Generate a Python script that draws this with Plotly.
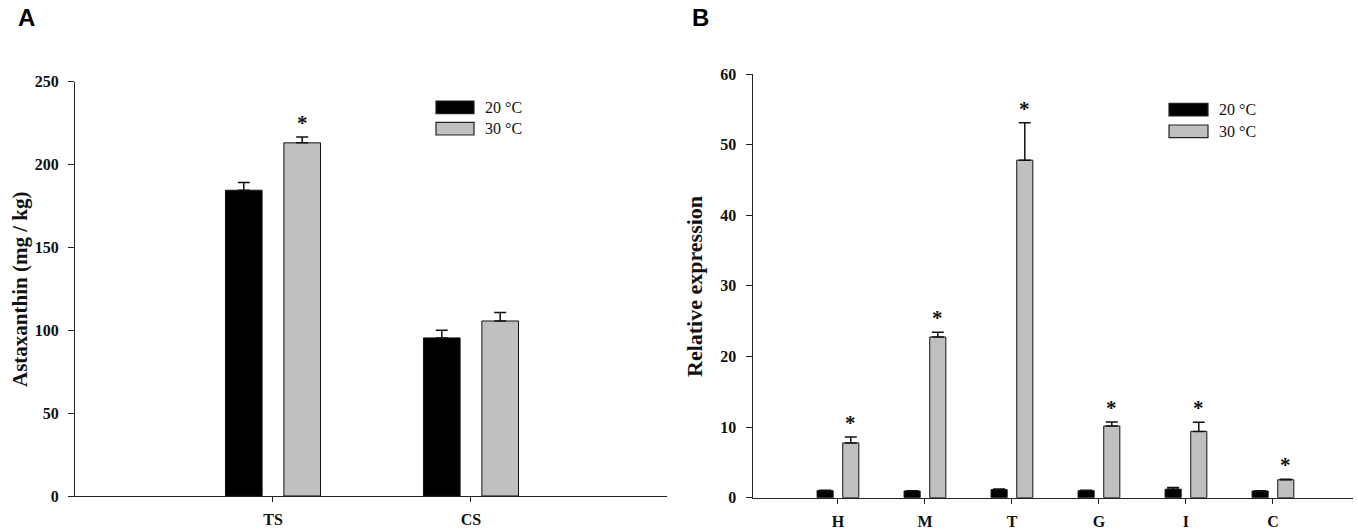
import plotly.graph_objects as go

# Panel A: astaxanthin content
sites_a = ["TS", "CS"]
asta_20 = [184.5, 95.4]
asta_20_err = [4.7, 4.6]
asta_30 = [213.1, 105.6]
asta_30_err = [3.5, 5.2]
signif_a = [True, False]

# Panel B: relative expression per tissue
tissues_b = ["H", "M", "T", "G", "I", "C"]
expr_20 = [1.0, 0.95, 1.15, 1.0, 1.2, 0.95]
expr_20_err = [0.05, 0.05, 0.08, 0.05, 0.25, 0.05]
expr_30 = [7.76, 22.76, 47.8, 10.16, 9.39, 2.54]
expr_30_err = [0.82, 0.67, 5.3, 0.57, 1.29, 0.08]
signif_b = [True, True, True, True, True, True]

legend_labels = ["20 \u00b0C", "30 \u00b0C"]
bar_colors = ["#000000", "#c0c0c0"]

W, H = 1358, 531
SERIF = "Liberation Serif, Times New Roman, serif"
SANS = "Liberation Sans, Arial, sans-serif"
BAR_W = 0.185
OFFSETS = [-0.24, 0.055]


def px_x(x):
    return x / W


def px_y(y):
    return 1 - y / H


def add_pair(fig, cats, vals, errs, xaxis, yaxis):
    """Add the 20 / 30 degree bars for one panel"""
    xs = list(range(len(cats)))
    for i in range(2):
        fig.add_trace(go.Bar(
            x=xs,
            y=vals[i],
            width=BAR_W,
            offset=OFFSETS[i],
            name=legend_labels[i],
            marker=dict(color=bar_colors[i], line=dict(color="#111111", width=1)),
            error_y=dict(type="data", symmetric=False, array=errs[i],
                         arrayminus=[0] * len(cats), color="#111111",
                         thickness=1.5, width=6),
            xaxis=xaxis,
            yaxis=yaxis,
            showlegend=False,
        ))


fig = go.Figure()
add_pair(fig, sites_a, [asta_20, asta_30], [asta_20_err, asta_30_err], "x", "y")
add_pair(fig, tissues_b, [expr_20, expr_30], [expr_20_err, expr_30_err], "x2", "y2")

annotations = []
# significance stars above the 30 degree bars
for xref, yref, vals, errs, sig in [("x", "y", asta_30, asta_30_err, signif_a),
                                    ("x2", "y2", expr_30, expr_30_err, signif_b)]:
    for i, s in enumerate(sig):
        if s:
            annotations.append(dict(
                x=i + OFFSETS[1] + BAR_W / 2, y=vals[i] + errs[i],
                xref=xref, yref=yref, text="<b>*</b>", showarrow=False,
                yanchor="bottom", yshift=0,
                font=dict(family=SERIF, size=21, color="#111111")))

# y axis titles
annotations.append(dict(x=px_x(20), y=px_y(290), xref="paper", yref="paper",
                        text="<b>Astaxanthin (mg / kg)</b>", textangle=-90,
                        xanchor="center", yanchor="middle",
                        showarrow=False, font=dict(family=SERIF, size=21, color="#111111")))
annotations.append(dict(x=px_x(694), y=px_y(287), xref="paper", yref="paper",
                        text="<b>Relative expression</b>", textangle=-90,
                        xanchor="center", yanchor="middle",
                        showarrow=False, font=dict(family=SERIF, size=22, color="#111111")))

# panel letters
annotations.append(dict(x=px_x(16), y=px_y(17), xref="paper", yref="paper", text="<b>A</b>",
                        xanchor="left", yanchor="middle", showarrow=False,
                        font=dict(family=SANS, size=24, color="#000000")))
annotations.append(dict(x=px_x(690), y=px_y(17), xref="paper", yref="paper", text="<b>B</b>",
                        xanchor="left", yanchor="middle", showarrow=False,
                        font=dict(family=SANS, size=24, color="#000000")))

# legend boxes drawn by hand (wide swatches like the original)
shapes = []
for bx0, bx1, tops, tx, tys in [(436, 474, [101, 122.3], 483, [107.5, 128.5]),
                                (1169, 1208, [103.3, 125], 1217, [110, 131])]:
    for i in range(2):
        shapes.append(dict(type="rect", xref="paper", yref="paper",
                           x0=px_x(bx0), x1=px_x(bx1),
                           y0=px_y(tops[i]), y1=px_y(tops[i] + 12.7),
                           fillcolor=bar_colors[i], line=dict(color="#222222", width=1.2)))
        annotations.append(dict(x=px_x(tx), y=px_y(tys[i]), xref="paper", yref="paper",
                                text=legend_labels[i], xanchor="left", yanchor="middle",
                                showarrow=False,
                                font=dict(family=SERIF, size=16, color="#111111")))

axis_common = dict(showline=True, linecolor="#222222", linewidth=1.3, showgrid=False,
                   zeroline=False, ticks="outside", tickcolor="#222222", tickwidth=1.3,
                   automargin=False)
xtick_font = dict(family=SERIF, size=16, color="#111111")
ytick_font = dict(family=SERIF, size=16, color="#111111")

fig.update_layout(
    width=W, height=H,
    margin=dict(l=0, r=0, t=0, b=0),
    paper_bgcolor="white", plot_bgcolor="white",
    barmode="overlay",
    showlegend=False,
    xaxis=dict(axis_common, domain=[px_x(75), px_x(667)], range=[-1.0, 1.99],
               tickvals=list(range(len(sites_a))), ticktext=[f"<b>{c}</b>" for c in sites_a],
               ticklen=5, ticklabelstandoff=4, tickfont=xtick_font, anchor="y"),
    yaxis=dict(axis_common, domain=[px_y(496), px_y(81.7)], range=[0, 250], dtick=50,
               tickformat="d", ticklen=6, ticklabelstandoff=6, tickfont=ytick_font,
               anchor="x", tickprefix="<b>", ticksuffix="</b>"),
    xaxis2=dict(axis_common, domain=[px_x(752.7), px_x(1353)], range=[-0.98, 5.92],
                tickvals=list(range(len(tissues_b))), ticktext=[f"<b>{c}</b>" for c in tissues_b],
                ticklen=5, ticklabelstandoff=4, tickfont=xtick_font, anchor="y2"),
    yaxis2=dict(axis_common, domain=[px_y(497.7), px_y(74)], range=[0, 60], dtick=10,
                ticklen=6, ticklabelstandoff=6, tickfont=ytick_font, anchor="x2",
                tickprefix="<b>", ticksuffix="</b>"),
    annotations=annotations,
    shapes=shapes,
)

# page has a default body margin; drop it so the figure fills the window exactly
fig.write_html("out.html", config={"displayModeBar": False},
               post_script="document.body.style.margin = '0';")
